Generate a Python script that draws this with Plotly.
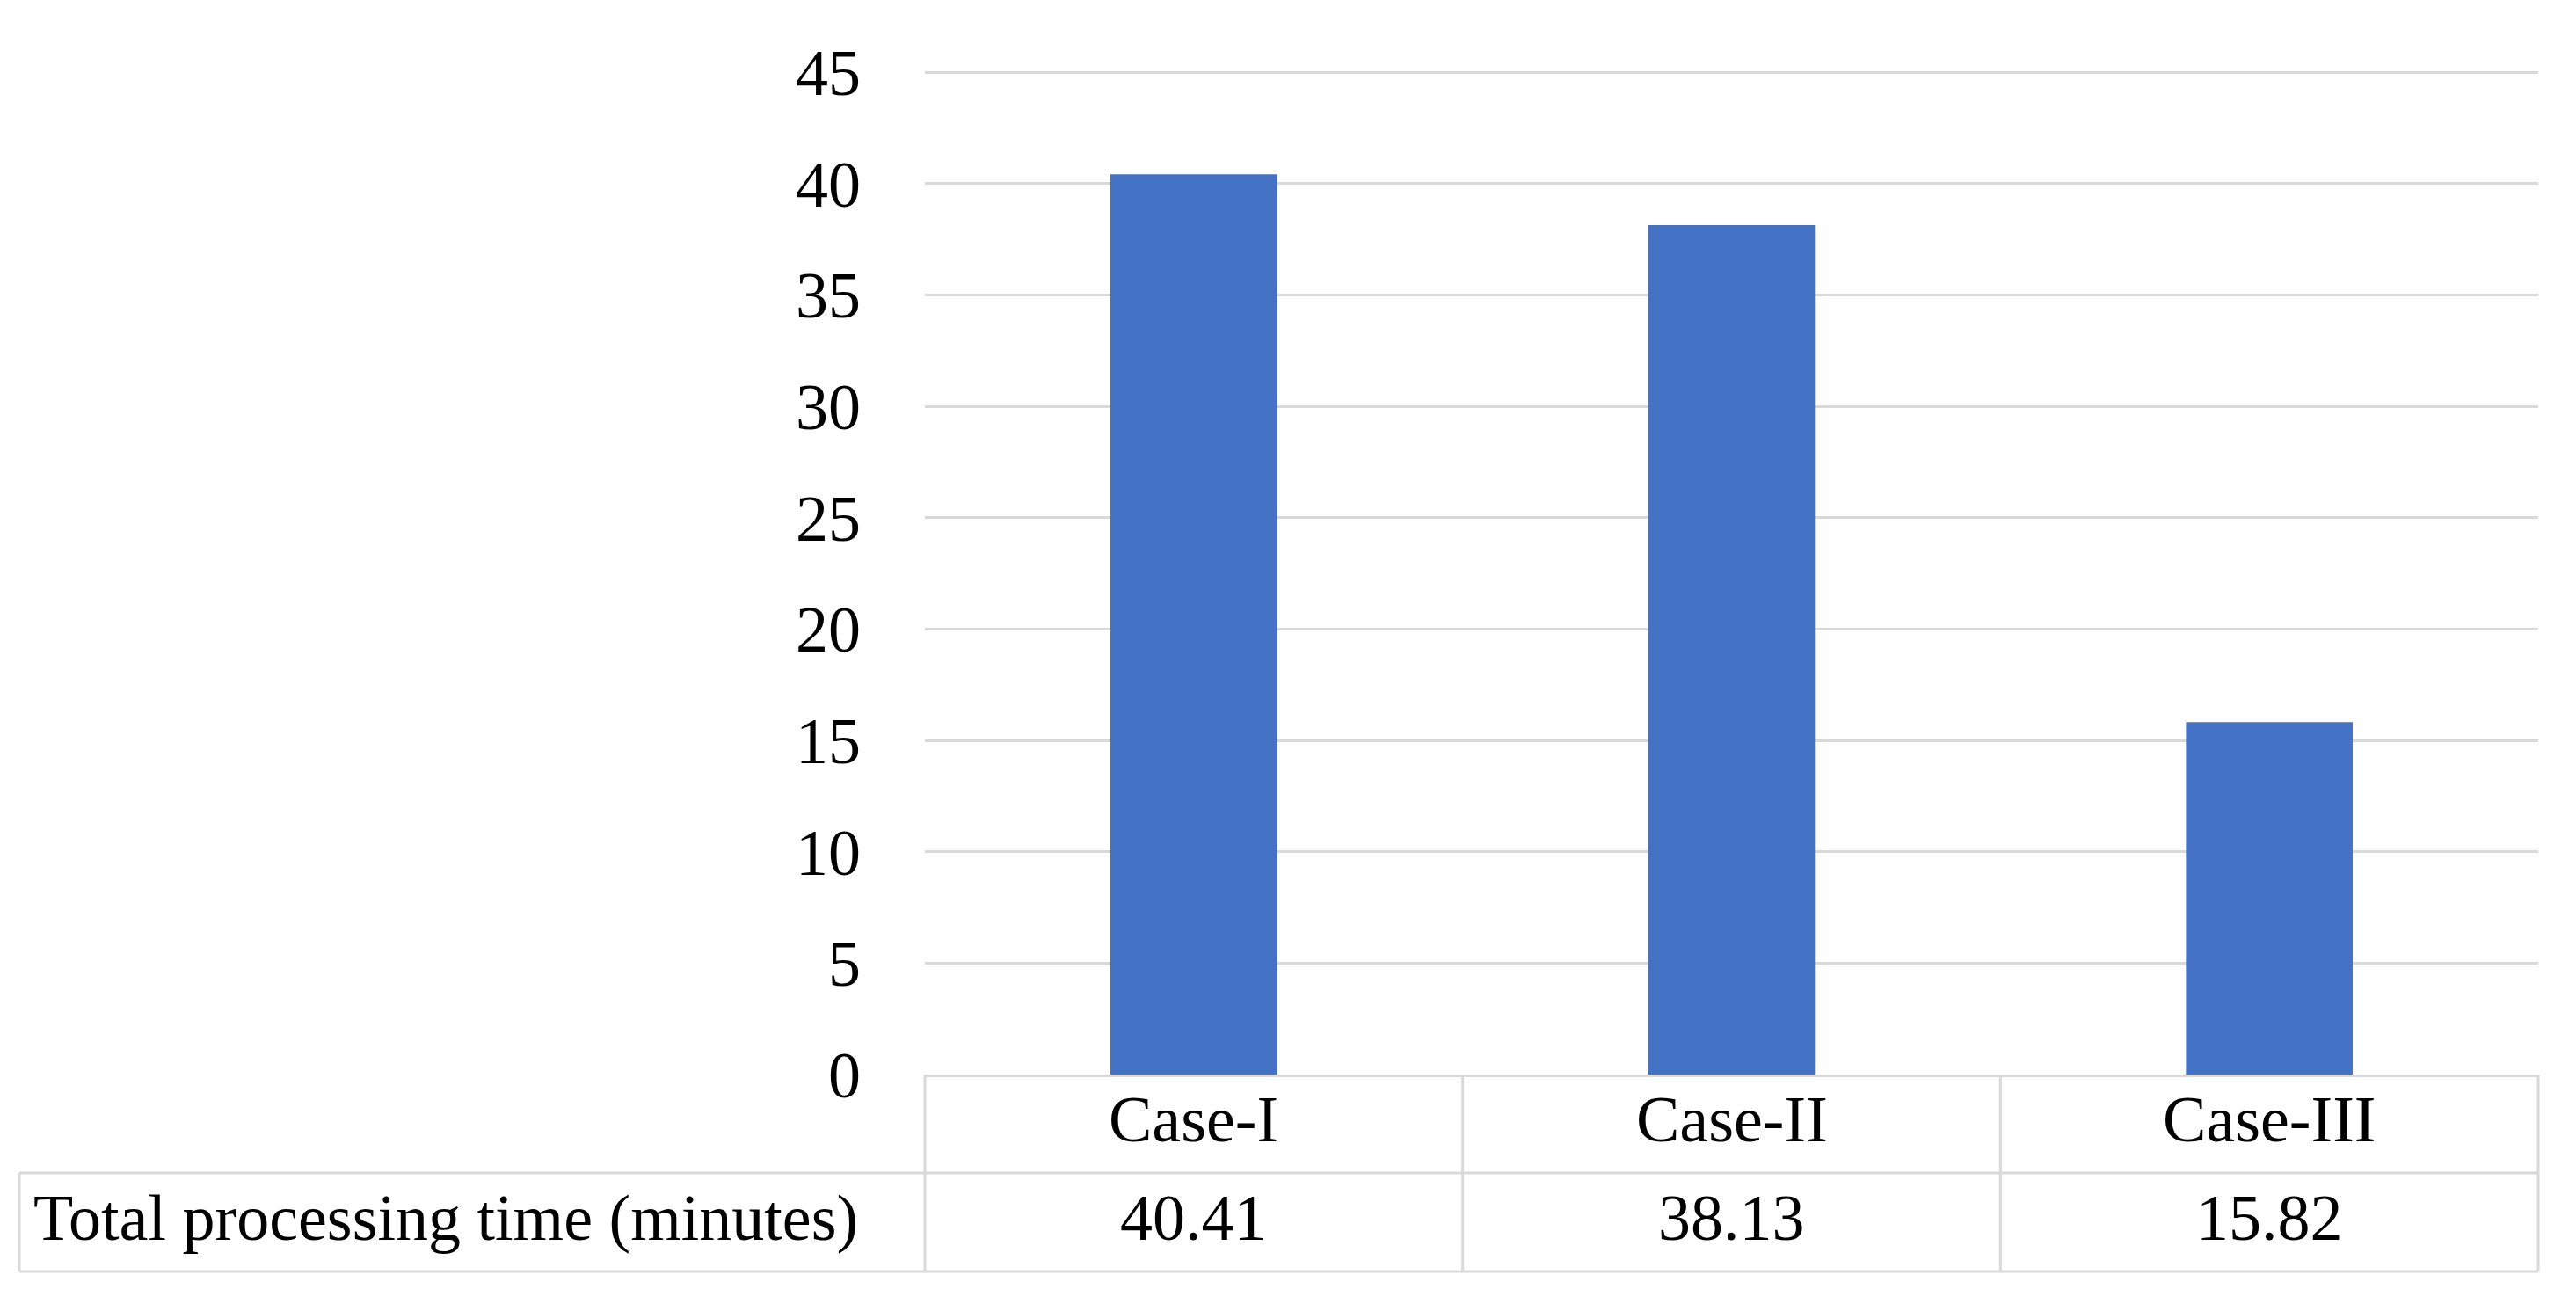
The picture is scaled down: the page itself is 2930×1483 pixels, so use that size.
import plotly.graph_objects as go

# data
cases = ['Case-I', 'Case-II', 'Case-III']
processing_time = [40.41, 38.13, 15.82]
row_label = 'Total processing time (minutes)'
y_max = 45

# page geometry (pixels in the window; the html body adds an 8px margin)
OFF = 8
W, H = 2930 - 2 * OFF, 1483 - 2 * OFF
PL, PR, PB = 1052, 2887, 1222
PT45 = 82                      # where the 45 gridline sits
TOP_PAD = 0.2                  # little headroom so the 45 gridline is drawn
PT = PT45 - TOP_PAD * (PB - PT45) / y_max
ROW1_B, ROW2_B = 1334, 1446
TABLE_L = 22
TEXT_SHIFT = 5                 # nudge table text up a bit
GRID = '#d9d9d9'
FONT = 'Liberation Serif'
FS = 74


def py(pix):
    return (PB - pix) / (PB - PT)


def px(pix):
    return (pix - PL) / (PR - PL)


fig = go.Figure()
fig.add_trace(
    go.Bar(
        x=cases,
        y=processing_time,
        marker=dict(color='#4472C4', line=dict(width=0)),
    )
)

# data table borders below the chart
line = dict(color=GRID, width=3)
shapes = [
    dict(type='line', xref='paper', yref='paper', x0=px(TABLE_L), x1=1, y0=py(ROW1_B), y1=py(ROW1_B), line=line),
    dict(type='line', xref='paper', yref='paper', x0=px(TABLE_L), x1=1, y0=py(ROW2_B), y1=py(ROW2_B), line=line),
    dict(type='line', xref='paper', yref='paper', x0=px(TABLE_L), x1=px(TABLE_L), y0=py(ROW1_B), y1=py(ROW2_B), line=line),
    dict(type='line', xref='paper', yref='paper', x0=0, x1=0, y0=0, y1=py(ROW2_B), line=line),
    dict(type='line', xref='paper', yref='paper', x0=1, x1=1, y0=0, y1=py(ROW2_B), line=line),
]
for i in range(len(cases) - 1):
    shapes.append(dict(type='line', xref='x', yref='paper', x0=i + 0.5, x1=i + 0.5,
                       y0=0, y1=py(ROW2_B), line=line))

row1_mid = (PB + ROW1_B) / 2 - TEXT_SHIFT
row2_mid = (ROW1_B + ROW2_B) / 2 - TEXT_SHIFT
annotations = []
for c, v in zip(cases, processing_time):
    annotations.append(dict(x=c, xref='x', y=py(row1_mid), yref='paper',
                            text=c, showarrow=False, xanchor='center', yanchor='middle',
                            font=dict(family=FONT, size=FS, color='#000000')))
    annotations.append(dict(x=c, xref='x', y=py(row2_mid), yref='paper',
                            text='{:.2f}'.format(v), showarrow=False, xanchor='center', yanchor='middle',
                            font=dict(family=FONT, size=FS, color='#000000')))
annotations.append(dict(x=px(TABLE_L + 14), xref='paper', y=py(row2_mid), yref='paper',
                        text=row_label, showarrow=False, xanchor='left', yanchor='middle',
                        font=dict(family=FONT, size=FS, color='#000000')))

fig.update_xaxes(showticklabels=False, showgrid=False, zeroline=False,
                 showline=True, linecolor=GRID, linewidth=3)
fig.update_yaxes(range=[0, y_max + TOP_PAD], tick0=0, dtick=5, showgrid=True,
                 gridcolor=GRID, gridwidth=3, zeroline=False, ticks='',
                 ticklabelstandoff=72,
                 tickfont=dict(family=FONT, size=FS, color='#000000'))
fig.update_layout(
    width=W, height=H,
    margin=dict(l=PL - OFF, r=OFF + W - PR, t=PT - OFF, b=OFF + H - PB, pad=0),
    paper_bgcolor='#FFFFFF',
    plot_bgcolor='#FFFFFF',
    bargap=0.69,
    showlegend=False,
    shapes=shapes,
    annotations=annotations,
)
fig.write_html('out.html')
